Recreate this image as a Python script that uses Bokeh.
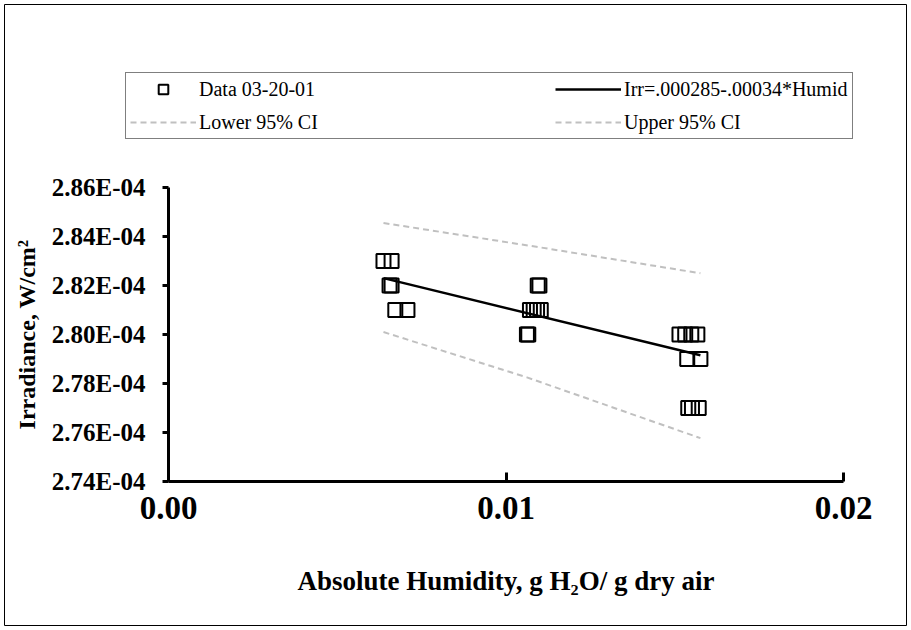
from bokeh.plotting import figure
from bokeh.models import Legend, LegendItem, FixedTicker, Range1d, ColumnDataSource, LinearAxis
from bokeh.embed import file_html
from bokeh.resources import INLINE

# ---- data ----
humidity = [0.00637, 0.00661, 0.00655, 0.00661, 0.00672, 0.00708,
            0.01094, 0.01099, 0.01071, 0.01082, 0.01092, 0.01103, 0.01062, 0.01066,
            0.01514, 0.01531, 0.01549, 0.01567, 0.01537, 0.01576, 0.01540, 0.01551, 0.01571]
irradiance = [2.83e-4, 2.83e-4, 2.82e-4, 2.82e-4, 2.81e-4, 2.81e-4,
              2.82e-4, 2.82e-4, 2.81e-4, 2.81e-4, 2.81e-4, 2.81e-4, 2.80e-4, 2.80e-4,
              2.80e-4, 2.80e-4, 2.80e-4, 2.80e-4, 2.79e-4, 2.79e-4, 2.77e-4, 2.77e-4, 2.77e-4]

fit_x = [0.00637, 0.01576]
fit_y = [2.823e-4, 2.7915e-4]

upper_x = [0.00637, 0.01090, 0.01576]
upper_y = [2.8455e-4, 2.8358e-4, 2.8250e-4]

lower_x = [0.00637, 0.01062, 0.01576]
lower_y = [2.8010e-4, 2.7825e-4, 2.7577e-4]

x_ticks = [0.0, 0.01, 0.02]
x_tick_labels = ["0.00", "0.01", "0.02"]
y_ticks = [2.74e-4, 2.76e-4, 2.78e-4, 2.80e-4, 2.82e-4, 2.84e-4, 2.86e-4]
y_tick_labels = ["2.74E-04", "2.76E-04", "2.78E-04", "2.80E-04", "2.82E-04", "2.84E-04", "2.86E-04"]

series_labels = ["Data 03-20-01", "Irr=.000285-.00034*Humid", "Lower 95% CI", "Upper 95% CI"]

FONT = "Liberation Serif"

# ---- layout (pixels) ----
W, H = 910, 629
BORDER = 4                                   # outer chart border inset
F_L, F_R, F_T, F_B = BORDER, W - BORDER, BORDER, H - BORDER
AX_L, AX_R, AX_T, AX_B = 168, 843, 187, 481  # where the axis box sits
x_lo, x_hi = x_ticks[0], x_ticks[-1]
y_lo, y_hi = y_ticks[0], y_ticks[-1]
sx = (x_hi - x_lo) / (AX_R - AX_L)
sy = (y_hi - y_lo) / (AX_B - AX_T)
x_range = Range1d(x_lo - (AX_L - F_L) * sx, x_hi + (F_R - AX_R) * sx)
y_range = Range1d(y_lo - (F_B - AX_B) * sy, y_hi + (AX_T - F_T) * sy)

p = figure(width=W, height=H, output_backend="svg", toolbar_location=None,
           x_range=x_range, y_range=y_range, x_axis_location=None, y_axis_location=None,
           min_border=BORDER)
p.outline_line_color = "black"
p.outline_line_width = 1
p.grid.visible = False
p.background_fill_color = "white"
p.border_fill_color = "white"

src = ColumnDataSource(dict(x=humidity, y=irradiance))
r_data = p.scatter("x", "y", source=src, marker="square", size=14, fill_color=None,
                   line_color="black", line_width=2)
r_fit = p.line(fit_x, fit_y, line_color="black", line_width=2.5)
r_low = p.line(lower_x, lower_y, line_color="#c0c0c0", line_width=2, line_dash="6 4")
r_up = p.line(upper_x, upper_y, line_color="#c0c0c0", line_width=2, line_dash="6 4")

xaxis = LinearAxis(fixed_location=y_lo, bounds=(x_lo, x_hi))
yaxis = LinearAxis(fixed_location=x_lo, bounds=(y_lo, y_hi))
p.add_layout(xaxis, "below")
p.add_layout(yaxis, "left")

for ax in (xaxis, yaxis):
    ax.axis_line_width = 3
    ax.axis_line_color = "black"
    ax.major_tick_line_width = 3
    ax.major_tick_line_color = "black"
    ax.minor_tick_line_color = None
    ax.major_label_text_font = FONT
    ax.major_label_text_font_style = "bold"
    ax.major_label_text_color = "black"
    ax.axis_label_text_font = FONT
    ax.axis_label_text_font_style = "bold"
    ax.axis_label_text_color = "black"

xaxis.ticker = FixedTicker(ticks=x_ticks)
xaxis.major_label_overrides = dict(zip(x_ticks, x_tick_labels))
xaxis.major_tick_in = 9
xaxis.major_tick_out = 0
xaxis.major_label_standoff = 15
xaxis.major_label_text_font_size = "33px"
xaxis.axis_label = "Absolute Humidity, g H\u2082O/ g dry air"
xaxis.axis_label_text_font_size = "27px"
xaxis.axis_label_standoff = 44

yaxis.ticker = FixedTicker(ticks=y_ticks)
yaxis.major_label_overrides = dict(zip(y_ticks, y_tick_labels))
yaxis.major_tick_in = 0
yaxis.major_tick_out = 6
yaxis.major_label_standoff = 17
yaxis.major_label_text_font_size = "25px"
yaxis.axis_label = "Irradiance, W/cm\u00b2"
yaxis.axis_label_text_font_size = "24px"
yaxis.axis_label_standoff = 9


def make_legend(items, loc, label_width, border):
    lg = Legend(items=items, location=loc)
    lg.label_text_font = FONT
    lg.label_text_font_size = "20px"
    lg.label_text_color = "black"
    lg.glyph_width = 66
    lg.glyph_height = 24
    lg.label_height = 24
    lg.label_standoff = 3
    lg.label_width = label_width
    lg.spacing = 9
    lg.padding = 4
    lg.margin = 0
    lg.border_line_color = "black" if border else None
    lg.border_line_width = 1
    lg.background_fill_alpha = 0
    return lg


LEG_L, LEG_R, LEG_T, LEG_H = 125, 851, 71, 68
vy = F_B - LEG_T - LEG_H
legend_a = make_legend([LegendItem(label=series_labels[0], renderers=[r_data]),
                        LegendItem(label=series_labels[2], renderers=[r_low])],
                       (LEG_L - F_L, vy), LEG_R - LEG_L - 4 - 66 - 3 - 4, True)
legend_b = make_legend([LegendItem(label=series_labels[1], renderers=[r_fit]),
                        LegendItem(label=series_labels[3], renderers=[r_up])],
                       (555 - F_L, vy + 5), 20, False)
p.add_layout(legend_a, "center")
p.add_layout(legend_b, "center")

open("out.html", "w").write(file_html(p, INLINE))
